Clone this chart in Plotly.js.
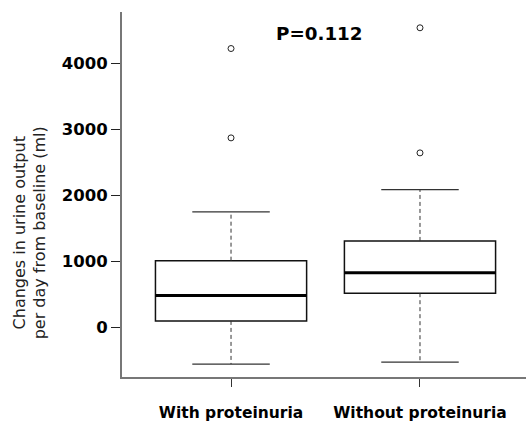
<!DOCTYPE html>
<html>
<head>
<meta charset="utf-8">
<script src="https://cdn.plot.ly/plotly-3.0.1.min.js"></script>
<style>html,body{margin:0;padding:0;background:#fff;}#chart{width:526px;height:423px;}</style>
</head>
<body>
<div id="chart"></div>
<script>
// Data
const categories = ["With proteinuria", "Without proteinuria"];
const positions = [0, 1];
const q1 = [100, 520];
const medians = [485, 830];
const q3 = [1012, 1311];
const lowerWhisker = [-553, -523];
const upperWhisker = [1750, 2088];
const outliers = [[2871, 4224], [2644, 4538]];
const pValueText = "P=0.112";
const yTickVals = [0, 1000, 2000, 3000, 4000];

const boxHalf = 0.4;
const capHalf = 0.205;

const traces = [];
// boxes
traces.push({
  type: 'box',
  x: positions,
  q1: q1,
  median: medians,
  q3: q3,
  lowerfence: q1,
  upperfence: q3,
  width: boxHalf * 2,
  whiskerwidth: 0,
  fillcolor: 'rgba(255,255,255,0)',
  line: {color: '#111', width: 1.5},
  hoverinfo: 'skip',
  showlegend: false
});
// medians, whiskers, caps
positions.forEach((p, i) => {
  traces.push({type: 'scatter', mode: 'lines', x: [p - boxHalf, p + boxHalf], y: [medians[i], medians[i]],
    line: {color: '#000', width: 3}, showlegend: false, hoverinfo: 'skip'});
  traces.push({type: 'scatter', mode: 'lines', x: [p, p], y: [q3[i], upperWhisker[i]],
    line: {color: '#333', width: 1, dash: '4px,3px'}, showlegend: false, hoverinfo: 'skip'});
  traces.push({type: 'scatter', mode: 'lines', x: [p, p], y: [q1[i], lowerWhisker[i]],
    line: {color: '#333', width: 1, dash: '4px,3px'}, showlegend: false, hoverinfo: 'skip'});
  traces.push({type: 'scatter', mode: 'lines', x: [p - capHalf, p + capHalf], y: [upperWhisker[i], upperWhisker[i]],
    line: {color: '#333', width: 1.2}, showlegend: false, hoverinfo: 'skip'});
  traces.push({type: 'scatter', mode: 'lines', x: [p - capHalf, p + capHalf], y: [lowerWhisker[i], lowerWhisker[i]],
    line: {color: '#333', width: 1.2}, showlegend: false, hoverinfo: 'skip'});
  traces.push({type: 'scatter', mode: 'markers', x: outliers[i].map(() => p), y: outliers[i],
    marker: {symbol: 'circle-open', size: 6, color: '#222', line: {width: 1}}, showlegend: false, hoverinfo: 'skip'});
});

const layout = {
  width: 526, height: 423,
  margin: {l: 122, r: 0, t: 12, b: 46},
  paper_bgcolor: '#fff', plot_bgcolor: '#fff',
  font: {family: 'DejaVu Sans', color: '#000'},
  showlegend: false,
  xaxis: {
    range: [-0.577, 1.561],
    tickvals: positions, ticktext: categories,
    showgrid: false, zeroline: false,
    showline: true, linecolor: '#777', linewidth: 2,
    ticks: 'outside', ticklen: 8, tickwidth: 1, tickcolor: '#333',
    ticklabelstandoff: 12,
    tickfont: {family: 'DejaVu Sans', size: 15.5, color: '#000', weight: 'bold'}
  },
  yaxis: {
    range: [-749, 4777],
    tickvals: yTickVals,
    showgrid: false, zeroline: false,
    showline: true, linecolor: '#777', linewidth: 2,
    ticks: 'outside', ticklen: 9, tickwidth: 1, tickcolor: '#222',
    tickfont: {family: 'DejaVu Sans', size: 16.5, color: '#000', weight: 'bold'}
  },
  annotations: [
    {text: pValueText, x: 0.47, y: 4447, xref: 'x', yref: 'y', showarrow: false,
     xanchor: 'center', yanchor: 'middle',
     font: {family: 'DejaVu Sans', size: 18.3, color: '#000', weight: 'bold'}},
    {text: 'Changes in urine output<br>per day from baseline (ml)', x: -0.229, y: 0.395,
     xref: 'paper', yref: 'paper', showarrow: false, textangle: -90,
     xanchor: 'center', yanchor: 'middle',
     font: {family: 'DejaVu Sans', size: 16, color: '#222'}}
  ]
};

Plotly.newPlot('chart', traces, layout, {displayModeBar: false, staticPlot: true});
</script>
</body>
</html>
